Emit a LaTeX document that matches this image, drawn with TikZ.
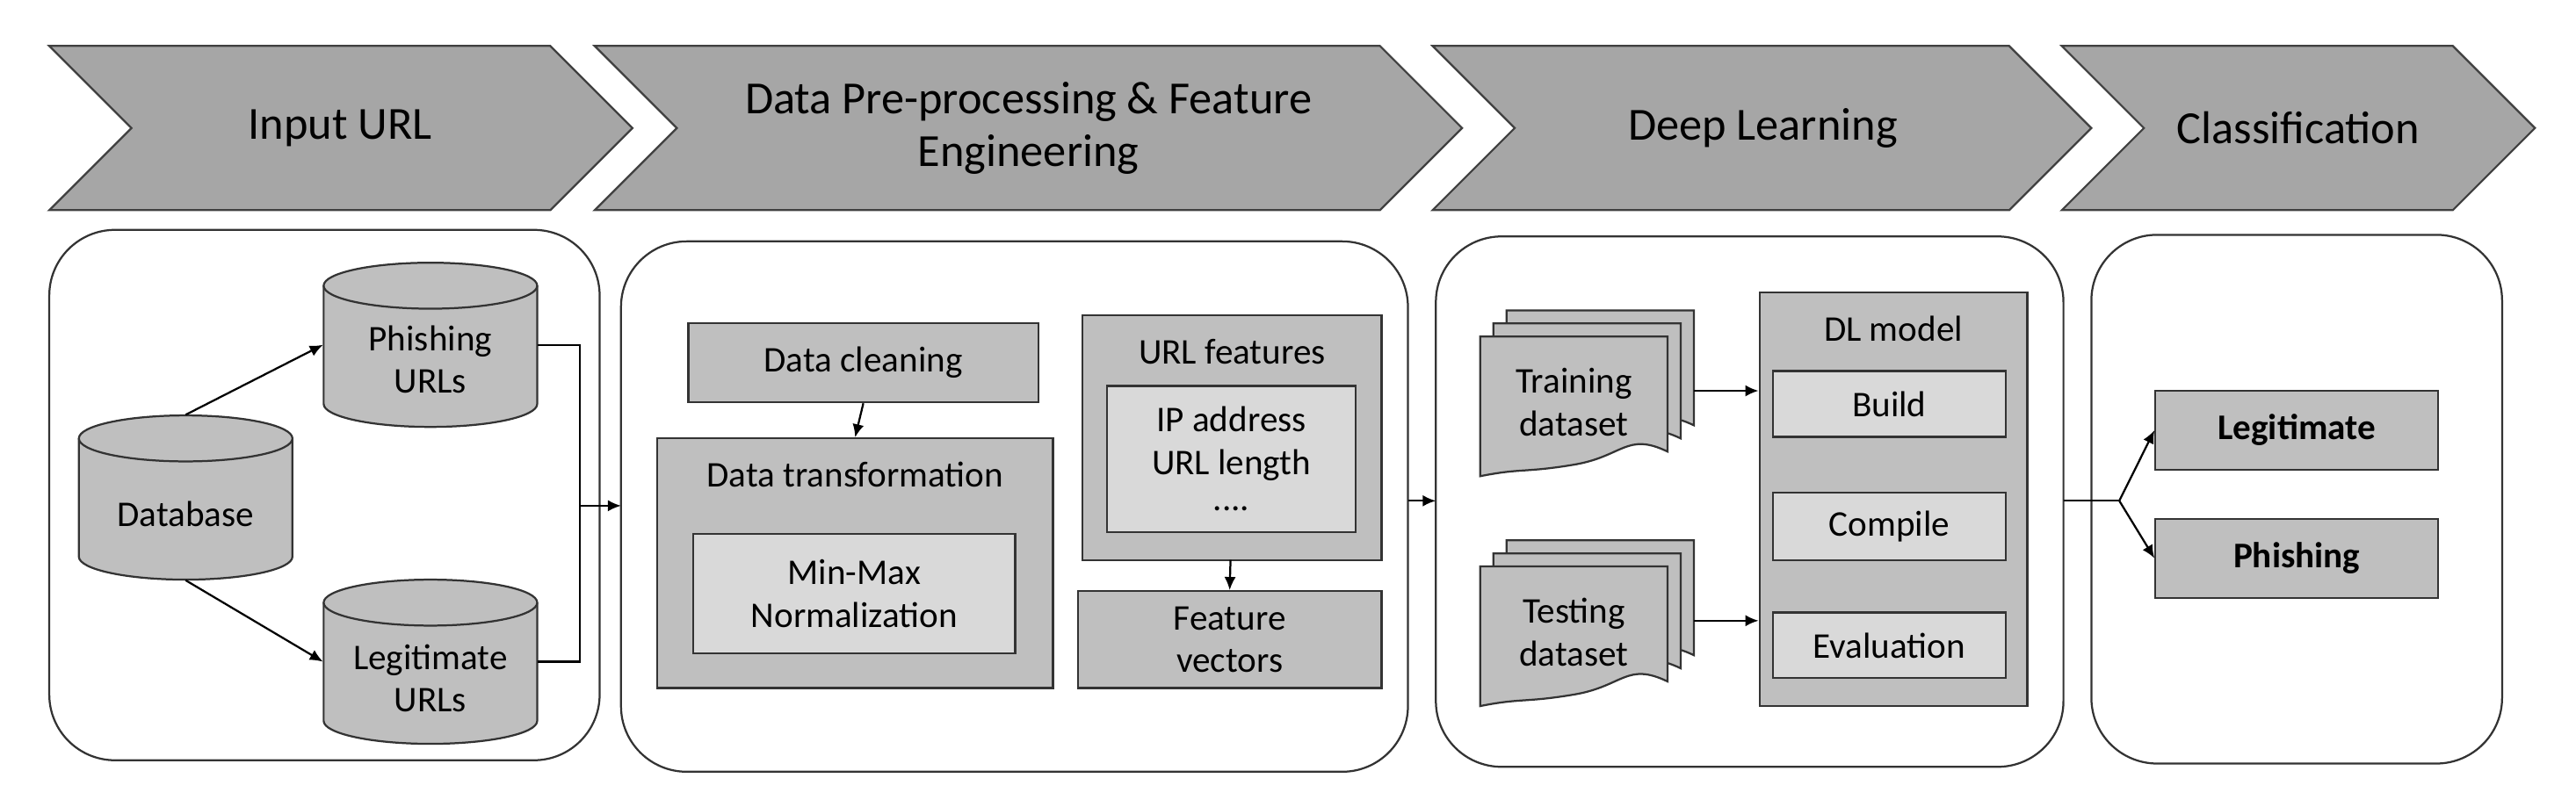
\documentclass[tikz,border=0pt]{standalone}
\usepackage{fontspec}
\setmainfont{Carlito}
\usetikzlibrary{arrows.meta}
\definecolor{chev}{HTML}{A6A6A6}
\definecolor{boxg}{HTML}{BFBFBF}
\definecolor{lite}{HTML}{D9D9D9}
\definecolor{edge}{HTML}{404040}
\tikzset{
  chevron/.style={fill=chev,draw=edge,line width=0.6pt},
  panel/.style={draw=black!80,rounded corners=20pt,line width=0.6pt},
  box/.style={draw=black!80,fill=boxg,line width=0.6pt,font=\fontsize{11}{13}\selectfont,align=center,inner sep=0pt},
  lbox/.style={box,fill=lite},
  txt/.style={font=\fontsize{11}{13}\selectfont,align=center,inner sep=0pt},
  anch/.style={minimum width=65pt,minimum height=50pt,inner sep=0pt},
  head/.style={font=\fontsize{14}{16}\selectfont,align=center},
  arr/.style={-{Latex[length=4pt,width=3.5pt]},line width=0.6pt},
  ln/.style={line width=0.6pt},
  doc/.style={draw=black!80,fill=boxg,line width=0.6pt}
}
\newcommand\mycyl[2]{%
  \fill[boxg] (#1-65,#2-36) rectangle (#1+65,#2+36);
  \fill[boxg] (#1,#2+36) ellipse [x radius=65,y radius=14];
  \draw[ln,black!80] (#1-65,#2-36) -- (#1-65,#2+36) arc[start angle=180,end angle=0,x radius=65,y radius=14] -- (#1+65,#2-36);
  \draw[ln,black!80,fill=boxg] (#1,#2-36) ellipse [x radius=65,y radius=14];
}
\begin{document}
\begin{tikzpicture}[x=0.5pt,y=-0.5pt]
\useasboundingbox (0,0) rectangle (1568,491);
% chevrons
\draw[chevron] (30,28)--(335,28)--(385,78)--(335,128)--(30,128)--(80,78)--cycle;
\draw[chevron] (362,28)--(840,28)--(890,78)--(840,128)--(362,128)--(412,78)--cycle;
\draw[chevron] (872,28)--(1223,28)--(1273,78)--(1223,128)--(872,128)--(922,78)--cycle;
\draw[chevron] (1255,28)--(1493,28)--(1543,78)--(1493,128)--(1255,128)--(1305,78)--cycle;
\node[head] (h1) at (207,78) {Input URL};
\node[head] (h2) at (626,78) {Data Pre-processing \& Feature\\Engineering};
\node[head] (h3) at (1073,78) {Deep Learning};
\node[head] (h4) at (1399,78) {Classification};
% panels
\draw[panel] (30,140) rectangle (365,463);
\draw[panel] (378,147) rectangle (857,470);
\draw[panel] (874,144) rectangle (1256,467);
\draw[panel] (1273,143) rectangle (1523,465);
\coordinate (p2l) at (378,308);
\coordinate (p2r) at (857,305);
\coordinate (p3l) at (874,305);
\coordinate (p3r) at (1256,305);
% panel 1
\mycyl{113}{303}
\mycyl{262}{210}
\mycyl{262}{403}
\node[anch] (db) at (113,303) {};
\node[anch] (ph) at (262,210) {};
\node[anch] (lg) at (262,403) {};
\node[txt] (dbt) at (113,313) {Database};
\node[txt] (pht) at (262,219) {Phishing\\URLs};
\node[txt] (lgt) at (262,413) {Legitimate\\URLs};
\draw[arr] (db.north) -- (ph.west);
\draw[arr] (db.south) -- (lg.west);
\coordinate (j1) at (353,308);
\draw[ln] (ph.east) -| (j1);
\draw[ln] (lg.east) -| (j1);
\draw[arr] (j1) -- (p2l);
% panel 2
\node[box,minimum width=106.5pt,minimum height=24pt] (clean) at (525.5,221) {Data cleaning};
\node[box,minimum width=120.5pt,minimum height=76pt] (trans) at (520.5,343) {};
\node[txt] (transl) at (520.5,289) {Data transformation};
\node[lbox,minimum width=98pt,minimum height=36.5pt] (mm) at (520,361.5) {Min-Max\\Normalization};
\draw[arr] (clean.south) -- (trans.north);
\node[box,minimum width=91pt,minimum height=74.5pt] (urlf) at (750,266.5) {};
\node[txt] (urlfl) at (750,214) {URL features};
\node[lbox,minimum width=75.5pt,minimum height=44.5pt] (ipa) at (749.5,279.5) {IP address\\URL length\\[-2pt]....};
\node[box,minimum width=92.5pt,minimum height=29.5pt] (fv) at (748.5,389.5) {Feature\\vectors};
\draw[arr] (749,341) -- (fv.north);
\draw[arr] (p2r) -- (p3l);
% panel 3 documents
\foreach \dx/\dy/\nm in {901/205/tr,901/345/te}{
  \foreach \o in {16,8,0}{
    \draw[doc] (\dx+\o,\dy-\o) -- ++(114,0) -- ++(0,70)
      .. controls +(-25,-12) and +(30,-5) .. ++(-57,8)
      .. controls +(-30,5) and +(25,-5) .. ++(-57,7) -- cycle;
  }
}
\node[txt] (trn) at (958,245) {Training\\dataset};
\node[txt] (tst) at (958,385) {Testing\\dataset};
\node[box,minimum width=81.5pt,minimum height=126pt] (dl) at (1152.5,304) {};
\node[txt] (dll) at (1152.5,200) {DL model};
\node[lbox,minimum width=71pt,minimum height=20pt] (bld) at (1150,246) {Build};
\node[lbox,minimum width=71pt,minimum height=20.5pt] (cmp) at (1150,320.5) {Compile};
\node[lbox,minimum width=71pt,minimum height=20pt] (evl) at (1150,393) {Evaluation};
\coordinate (trr) at (1031,238);
\coordinate (ter) at (1031,378);
\draw[arr] (trr) -- (dl.west |- trr);
\draw[arr] (ter) -- (dl.west |- ter);
% panel 4
\node[box,font=\fontsize{11}{13}\selectfont\bfseries,minimum width=86pt,minimum height=24pt] (leg) at (1398,262) {Legitimate};
\node[box,font=\fontsize{11}{13}\selectfont\bfseries,minimum width=86pt,minimum height=24pt] (phi) at (1398,340) {Phishing};
\coordinate (j2) at (1290,305);
\draw[ln] (p3r) -- (j2);
\draw[arr] (j2) -- (leg.west);
\draw[arr] (j2) -- (phi.west);
\end{tikzpicture}
\end{document}
